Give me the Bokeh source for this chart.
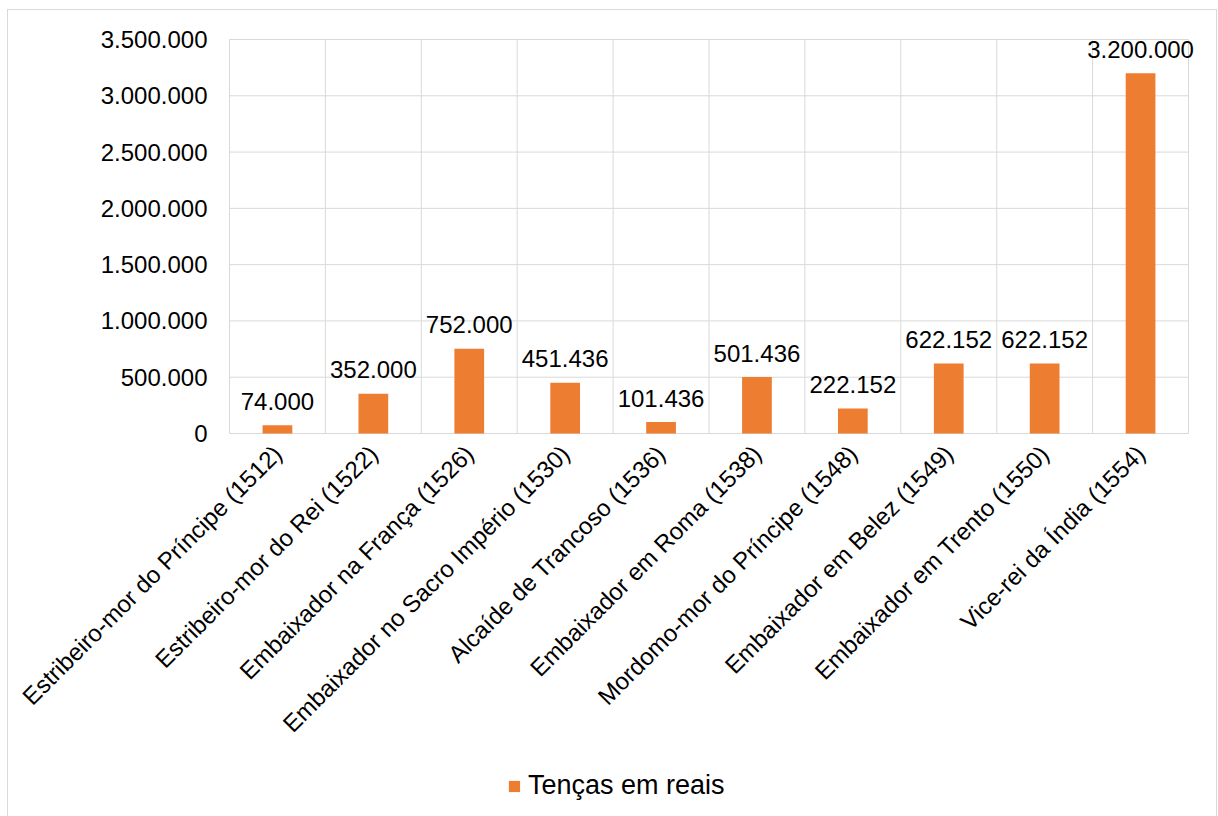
from bokeh.plotting import figure
from bokeh.layouts import column
from bokeh.models import (ColumnDataSource, Range1d, CustomJSTickFormatter,
                          FixedTicker, Legend, LegendItem)
from bokeh.core.properties import value
from bokeh.embed import file_html
from bokeh.resources import INLINE

categories = [
    "Estribeiro-mor do Príncipe (1512)",
    "Estribeiro-mor do Rei (1522)",
    "Embaixador na França (1526)",
    "Embaixador no Sacro Império (1530)",
    "Alcaíde de Trancoso (1536)",
    "Embaixador em Roma (1538)",
    "Mordomo-mor do Príncipe (1548)",
    "Embaixador em Belez (1549)",
    "Embaixador em Trento (1550)",
    "Vice-rei da Índia (1554)",
]
tencas = [74000, 352000, 752000, 451436, 101436, 501436, 222152, 622152, 622152, 3200000]
y_ticks = [0, 500000, 1000000, 1500000, 2000000, 2500000, 3000000, 3500000]
series_name = "Tenças em reais"

FONT = "Liberation Sans"
FS = "24px"
ORANGE = "#ED7D31"
GRID = "#d9d9d9"
W = 1218
H_MAIN = 750
H_LEG = 66

N = len(categories)
xs = [i + 0.5 for i in range(N)]          # category centres on the axis scale
bounds = list(range(N + 1))                 # category boundaries
ymax = max(y_ticks)
PX_X = (1188 - 229) / N                     # pixels per category
PX_Y = ymax / (433 - 39)                    # data units per pixel

labels = [f"{v:,}".replace(",", ".") for v in tencas]
src = ColumnDataSource(dict(x=xs, val=tencas, lab=labels))

line = f"linear-gradient({GRID},{GRID})"
main_bg = (f"{line} 7px 9px / 1210px 1px no-repeat, "
           f"{line} 7px 9px / 1px {H_MAIN}px no-repeat, "
           f"{line} 1216px 9px / 1px {H_MAIN}px no-repeat, #ffffff")
leg_bg = (f"{line} 7px 0px / 1px {H_LEG}px no-repeat, "
          f"{line} 1216px 0px / 1px {H_LEG}px no-repeat, #ffffff")

p = figure(width=W, height=H_MAIN, output_backend="svg", toolbar_location=None,
           x_range=Range1d(-1 / PX_X, N + 10 / PX_X),
           y_range=Range1d(-PX_Y, ymax + PX_Y),
           min_border_left=228, min_border_right=20, min_border_top=38,
           min_border_bottom=H_MAIN - 434,
           styles={"background": main_bg})
p.background_fill_color = "white"
p.border_fill_alpha = 0
p.outline_line_color = None
p.xgrid.visible = False
p.ygrid.visible = False

# gridlines (horizontal at value ticks, vertical at category boundaries)
p.segment(x0=[0] * len(y_ticks), x1=[N] * len(y_ticks), y0=y_ticks, y1=y_ticks,
          line_color=GRID, line_width=1)
p.segment(x0=bounds, x1=bounds, y0=[0] * len(bounds), y1=[ymax] * len(bounds),
          line_color=GRID, line_width=1)

bars = p.vbar(x="x", top="val", width=0.31, source=src, fill_color=ORANGE, line_color=None)
p.text(x="x", y="val", text="lab", source=src, text_align="center",
       text_baseline="alphabetic", y_offset=-24, text_font=value(FONT),
       text_font_size=FS, text_color="#000000")

# y axis
p.yaxis.ticker = FixedTicker(ticks=y_ticks)
p.yaxis.formatter = CustomJSTickFormatter(
    code="return Math.round(tick).toString().replace(/\\B(?=(\\d{3})+(?!\\d))/g, '.');")
p.yaxis.axis_line_color = None
p.yaxis.major_tick_line_color = None
p.yaxis.minor_tick_line_color = None
p.yaxis.major_label_standoff = 15
p.yaxis.major_label_text_font = FONT
p.yaxis.major_label_text_font_size = FS
p.yaxis.major_label_text_color = "#000000"

# x axis (category names at category centres)
p.xaxis.ticker = FixedTicker(ticks=xs)
p.xaxis.major_label_overrides = {x: c for x, c in zip(xs, categories)}
p.xaxis.axis_line_color = None
p.xaxis.major_tick_line_color = None
p.xaxis.minor_tick_line_color = None
p.xaxis.major_label_orientation = 0.785398
p.xaxis.major_label_standoff = 9
p.xaxis.major_label_text_font = FONT
p.xaxis.major_label_text_font_size = FS
p.xaxis.major_label_text_color = "#000000"

# legend strip (separate small figure below the chart); its bars lie far outside its view
pl = figure(width=W, height=H_LEG, output_backend="svg", toolbar_location=None,
            x_range=p.x_range, y_range=Range1d(ymax * 3, ymax * 3 + 1),
            x_axis_location=None, y_axis_location=None, min_border=0,
            styles={"background": leg_bg})
pl.border_fill_alpha = 0
pl.background_fill_alpha = 0
pl.outline_line_color = None
pl.grid.visible = False
leg_bar = pl.vbar(x="x", top="val", width=0.31, source=src,
                  fill_color=ORANGE, line_color=None)
legend = Legend(items=[LegendItem(label=series_name, renderers=[leg_bar])],
                location=(509 - 2 - 228, 15), orientation="horizontal",
                label_text_font=FONT, label_text_font_size="27px", label_text_color="#000000",
                glyph_width=14, glyph_height=14, label_standoff=7,
                border_line_color=None, background_fill_alpha=0,
                margin=0, padding=5)
pl.add_layout(legend)

layout = column(p, pl, spacing=0)
open("out.html", "w").write(file_html(layout, INLINE))
